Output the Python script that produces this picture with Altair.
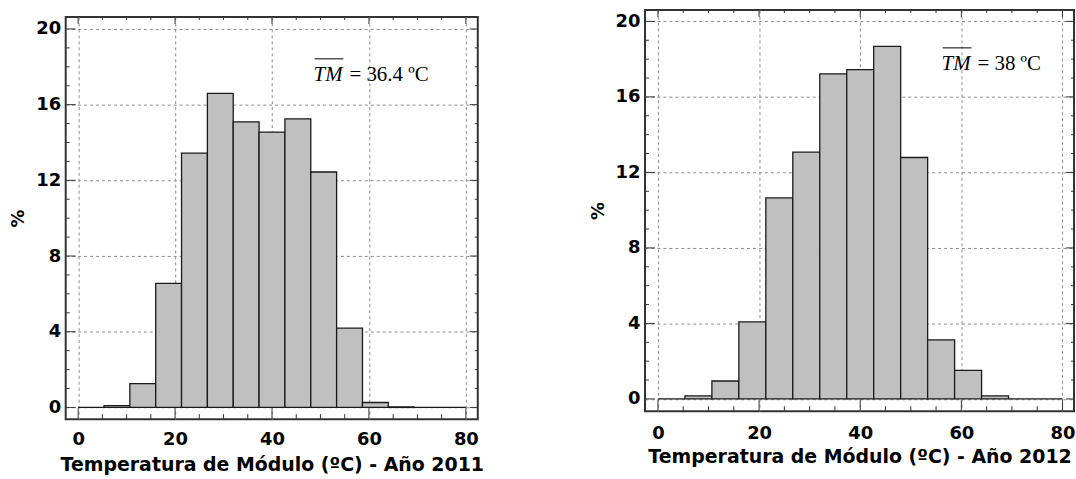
import altair as alt
import pandas as pd

# ---- data ----
n_bins = 15
bin_width = 80 / n_bins
bin_start = [round(i * bin_width, 4) for i in range(n_bins)]
bin_end = [round((i + 1) * bin_width, 4) for i in range(n_bins)]

pct_2011 = [0, 0.10, 1.26, 6.55, 13.44, 16.60, 15.09, 14.55, 15.25, 12.44, 4.19, 0.26, 0.03, 0, 0]
pct_2012 = [0, 0.16, 0.95, 4.08, 10.65, 13.07, 17.22, 17.45, 18.68, 12.79, 3.13, 1.51, 0.16, 0, 0]

x_major = [0, 20, 40, 60, 80]
x_minor = [v for v in range(5, 80, 5) if v % 20 != 0]
y_major = [0, 4, 8, 12, 16, 20]
y_minor = [v for v in range(1, 20) if v % 4 != 0]

titles = ["Temperatura de Módulo (ºC) - Año 2011", "Temperatura de Módulo (ºC) - Año 2012"]
means = ["= 36.4 ºC", "= 38 ºC"]

FRAME = "#333333"
SANS = "DejaVu Sans"
SERIF = "Liberation Serif"


def panel(values, W, H, xdom, ydom, xtitle, mean_text, ann, label_pad, title_pad):
    df = pd.DataFrame({"x0": bin_start, "x1": bin_end, "pct": values, "base": [0] * n_bins})
    xs = alt.Scale(domain=xdom, nice=False, zero=False)
    ys = alt.Scale(domain=ydom, nice=False, zero=False)
    xax = alt.Axis(
        values=x_major, grid=True, gridDash=[3, 3], gridColor="#8c8c8c", gridWidth=1,
        ticks=False, domain=False, labelFont=SANS, labelFontWeight="bold", labelFontSize=18,
        labelColor="#000", labelPadding=label_pad, labelFlush=False, labelOverlap=False,
        title=xtitle, titleFont=SANS, titleFontWeight="bold", titleFontSize=19,
        titleColor="#000", titlePadding=title_pad)
    yax = alt.Axis(
        values=y_major, grid=True, gridDash=[3, 3], gridColor="#8c8c8c", gridWidth=1,
        ticks=False, domain=False, labelFont=SANS, labelFontWeight="bold", labelFontSize=18,
        labelColor="#000", labelPadding=5, labelFlush=False, labelOverlap=False,
        title="%", titleFont=SANS, titleFontWeight="bold", titleFontSize=18,
        titleColor="#000", titlePadding=8)

    bars = alt.Chart(df).mark_rect(fill="#c0c0c0", stroke="#1a1a1a", strokeWidth=1.3).encode(
        x=alt.X("x0:Q", scale=xs, axis=xax),
        x2="x1:Q",
        y=alt.Y("pct:Q", scale=ys, axis=yax),
        y2="base:Q",
    )

    layers = [bars]
    xmaj = pd.DataFrame({"x0": x_major})
    xmin = pd.DataFrame({"x0": x_minor})
    ymaj = pd.DataFrame({"pct": y_major})
    ymin = pd.DataFrame({"pct": y_minor})

    def xt(d, y_a, y_b):
        return alt.Chart(d).mark_rule(color=FRAME, strokeWidth=1).encode(
            x=alt.X("x0:Q", scale=xs, axis=xax), y=alt.value(y_a), y2=alt.value(y_b))

    def yt(d, x_a, x_b):
        return alt.Chart(d).mark_rule(color=FRAME, strokeWidth=1).encode(
            y=alt.Y("pct:Q", scale=ys, axis=yax), x=alt.value(x_a), x2=alt.value(x_b))

    layers += [
        xt(xmaj, H, H - 11), xt(xmin, H, H - 5),
        xt(xmaj, 0, 7), xt(xmin, 0, 3),
        yt(ymaj, 0, 10), yt(ymin, 0, 4),
        yt(ymaj, W, W - 8), yt(ymin, W, W - 3),
    ]

    one = pd.DataFrame({"a": [0]})
    tm_x, base_y, over_y, eq_x = ann
    layers += [
        alt.Chart(one).mark_text(text="TM", font=SERIF, fontStyle="italic", fontSize=21,
                                 align="left", baseline="alphabetic", color="#000").encode(
            x=alt.value(tm_x), y=alt.value(base_y)),
        alt.Chart(one).mark_rule(color="#000", strokeWidth=1).encode(
            x=alt.value(tm_x + 1), x2=alt.value(tm_x + 30), y=alt.value(over_y)),
        alt.Chart(one).mark_text(text=mean_text, font=SERIF, fontSize=21,
                                 align="left", baseline="alphabetic", color="#000").encode(
            x=alt.value(eq_x), y=alt.value(base_y)),
    ]

    return alt.layer(*layers).properties(width=W, height=H)


left = panel(pct_2011, 414, 404, [-2.57, 82.46], [-0.62, 20.63], titles[0], means[0],
             (249, 64, 42, 285), 11, 8)
right = panel(pct_2012, 431, 403, [-2.56, 82.28], [-0.65, 20.6], titles[1], means[1],
              (298, 60, 38, 334), 13, 6)

# invisible spacer that lowers the left panel a few pixels
spacer = alt.Chart(pd.DataFrame({"a": [0]})).mark_rule(strokeOpacity=0).encode(
    x=alt.value(0), x2=alt.value(1), y=alt.value(0)
).properties(width=414, height=5, view=alt.ViewBackground(stroke=None))

left_col = alt.vconcat(spacer, left, spacing=0, bounds="full")

chart = alt.hconcat(left_col, right, spacing=103, bounds="full").configure_view(
    stroke=FRAME, strokeWidth=2
).properties(
    padding={"left": 8, "top": 7, "right": 0, "bottom": 0},
    background="white",
)

chart.save("out.html", embed_options={"renderer": "svg", "actions": False})
